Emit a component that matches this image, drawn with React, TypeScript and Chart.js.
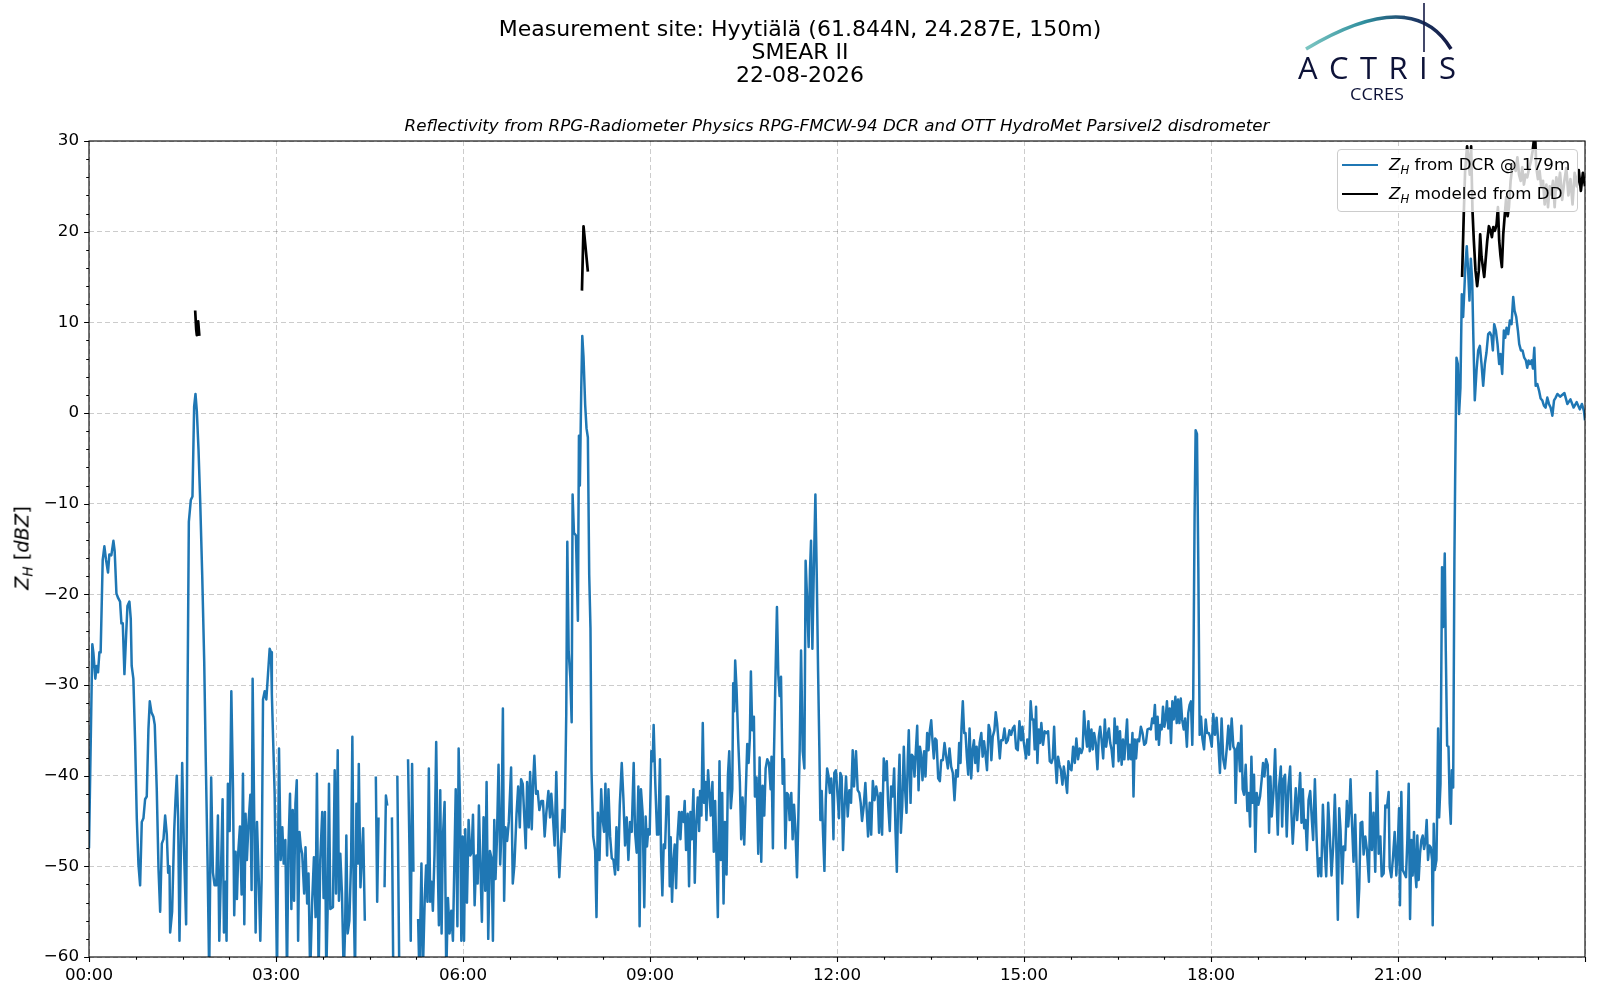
import { useEffect, useRef } from 'react';
import { Chart, registerables } from 'chart.js';

Chart.register(...registerables);

type Sample = [number, number | null];

// Z_H from the cloud radar, [minutes since 00:00, dBZ]; values below -60 run off the axis
const dcrNight: Sample[] = [
  [0, -48], [3.2, -25.5], [4.2, -26.4], [6.1, -29.3], [7.4, -27.9], [8.7, -28.6], [10, -26.4], [11.2, -26.4],
  [13.2, -16.2], [14.8, -14.7], [16.4, -16.2], [18.3, -17.6], [19.6, -15.6], [21.5, -15.7], [23.5, -14.1],
  [24.7, -15.2], [26.4, -19.9], [28, -20.4], [29.9, -20.8], [31.2, -23.2], [32.5, -23.2], [34.1, -28.8],
  [35.7, -24.6], [37, -21.3], [38.9, -20.8], [40.2, -22.7], [41.1, -27.9], [42.7, -29.3], [44.4, -36.3],
  [46, -44.7], [47.6, -49.8], [49.2, -52.1], [50.8, -45.1], [52.4, -44.7], [54, -42.6], [55.6, -42.3],
  [57.2, -34.9], [58.5, -31.8], [60.1, -33], [62, -33.5], [63.3, -34.4], [65.2, -41.4], [66.9, -50.3],
  [68.5, -55], [70.1, -47.5], [71.7, -47], [73.3, -44.4], [74.9, -46.5], [76.2, -50.7], [77.5, -50],
  [78.1, -57.3], [80, -55], [82, -46.1], [83.2, -42.8], [84.5, -40], [85.8, -44.7], [87.1, -58.2],
  [88.4, -48.4], [89.7, -38.6], [91.3, -47.5], [93.5, -56.4], [94.8, -32.1], [96.1, -12], [98, -9.6],
  [99.6, -9.2], [101.2, 0.7], [102.5, 2.1], [103.8, 0.2], [105.4, -4], [107, -9.6], [109, -18], [110.9, -27.4],
  [112.5, -39], [114.1, -49.3], [115.7, -62], [117.6, -40.2], [119.3, -50.7], [120.9, -52.1], [122.5, -52.1],
  [124.1, -44.4], [125.4, -58.2], [127, -50.7], [128.6, -42.6], [129.9, -57.3], [131.2, -51.7], [132.4, -58.2],
  [133.7, -40.9], [135.4, -46.1], [137, -30.7], [138.6, -41.4], [139.8, -55.4], [141.1, -48.4], [142.4, -53.6],
  [143.7, -48.4], [145.3, -45.6], [146.9, -53.1], [148.2, -39.8], [149.5, -56.4], [150.7, -44.2], [152, -49.3],
  [153.6, -45.1], [155.3, -42.1], [156.5, -52.6], [157.5, -29.3], [159.1, -45.1], [160.4, -57.3], [161.7, -45.1],
  [163.3, -51], [164.9, -58.2], [166.2, -51.2], [167.5, -31.6], [169.1, -30.7], [170.7, -31.6], [172.3, -28.8],
  [173.9, -26], [175.2, -26.4],
];

const dcrEarly: Sample[] = [
  [176, -31], [178.7, -42], [181, -62], [182.9, -37], [184.5, -49.3], [186.1, -45.7], [187.4, -49.7], [189, -47.1],
  [190.6, -62], [191.9, -48.2], [193.5, -42], [194.8, -54.7], [196.1, -43.8], [197.4, -53.8], [198.7, -43.1],
  [200, -40.5], [201.3, -58.2], [202.6, -46.2], [203.9, -47.9], [205.2, -48.6], [207.1, -53], [208.4, -47.9],
  [210, -54.1], [211.3, -50.8], [212.9, -62], [214.8, -53.9], [216.5, -49], [218.1, -55.6], [219.4, -39.8],
  [221, -62], [222.6, -49.3], [224.5, -44], [225.8, -53.5], [227.1, -44], [228.4, -62], [229.7, -54.7],
  [231, -40.9], [232.3, -54.7], [234.8, -54.5], [236.5, -39.4], [237.8, -53], [239.4, -37.2], [240.6, -53.8],
  [241.9, -48.6], [243.5, -53], [245.2, -62], [246.5, -57], [247.7, -46.6], [249, -57.4], [250.6, -56],
  [252.3, -49.3], [253.5, -35.7], [254.8, -53.8], [256.1, -62], [257.4, -43.1], [258.7, -49.7], [259.7, -38.7],
  [261.3, -52.3], [263.9, -45.8], [265.5, -56], [270, null], [276.1, -40.1], [277.4, -53.9], [278.7, -44.6],
  [281, null], [284.5, -52.3], [285.8, -42.2], [287.1, -43.3], [289, null], [291.6, -44.6], [292.9, -62],
  [295, null], [296.8, -40], [298.7, -62], [303, null], [307.1, -38.2], [308.4, -47.5], [309.7, -58.2],
  [311, -38.7], [312.3, -50.6], [314, null], [316.8, -55.8], [318, -62], [320, -49.7], [321.3, -62],
  [323.2, -53.4], [324.5, -49.9], [325.8, -53.9], [327.1, -39.2], [328.4, -53.9], [329.7, -51.7], [331, -54.9],
  [332.6, -48.6], [334.2, -36.3], [335.8, -50.3], [336.8, -56.5], [338.1, -41.6], [339.4, -57.4], [340.6, -46.8],
  [342.3, -42.9], [343.9, -62], [345.5, -53.5], [347.1, -57.4], [348.7, -54.9], [350.3, -58.2],
];

const dcrMorning: Sample[] = [
  [353, -41.5], [354.6, -56.6], [355.8, -37], [357.2, -43.6], [358.4, -58.2], [359.7, -46.7], [361, -58.2],
  [362.2, -45.9], [363.8, -54], [365.4, -44.9], [367, -48.8], [368.3, -48.5], [369.6, -44.3], [371.2, -54.3],
  [372.8, -48.8], [374.1, -51.9], [375.3, -43.3], [376.6, -49.3], [378.2, -56.1], [379.8, -44.6], [381.4, -52.7],
  [382.7, -40.7], [384.3, -58], [385.9, -48.3], [387.5, -49.1], [388.8, -58.2], [390.1, -44.9], [391.3, -51.4],
  [392.6, -47.2], [394.2, -38.8], [395.8, -49.8], [397.1, -45.9], [398.4, -32.6], [399.6, -53.8], [400.9, -45.7],
  [402.5, -47.2], [404.1, -45.1], [406.3, -39.1], [407.9, -51.9], [409.5, -49.8], [411.5, -44.3], [413.1, -41.2],
  [414.7, -45.7], [415.9, -40.4], [417.5, -40.9], [418.8, -44.1], [420.4, -48], [421.7, -40.7], [423.3, -45.7],
  [424.6, -39.6], [426.2, -45.9], [427.5, -40.7], [428.7, -37.8], [430.3, -42], [431.9, -41.7], [433.5, -43.8],
  [435.4, -42.8], [437, -42.8], [438.6, -46.7], [440.2, -44.1], [442.2, -41.7], [443.8, -44.6], [445, -42],
  [446.6, -44.6], [448.2, -47.7], [449.8, -39.6], [451.4, -47.7], [452.7, -51.2], [454.3, -47.5], [455.9, -43.8],
  [457.8, -46.2], [459.4, -33.1], [460.4, -14.2], [461.7, -26.3], [463.3, -29.2], [464.6, -34.1], [465.5, -9],
  [466.8, -13.2], [468.7, -13.5], [470.6, -22.9], [471.6, -2.5], [472.5, -8], [473.8, 2.5], [474.8, 8.5],
  [476, 6.2], [477.6, 0.9], [478.9, -1.7], [480.2, -2.7], [481.5, -17.9], [482.7, -23.7], [483.7, -39.4],
  [485.3, -46.7], [487.2, -48.3], [488.5, -55.6], [489.8, -44.1], [491.4, -49.3], [493, -41.5], [494.2, -44.6],
  [495.8, -46.2], [497.1, -40.9], [498.7, -48.8], [500, -41.5], [501.6, -46.7], [503.2, -49.1], [504.8, -49.3],
  [506.4, -50.9], [507.7, -45.7], [509.3, -50.4], [510.9, -43.3], [512.8, -38.6], [514.4, -42.5], [516, -47.7],
  [517.6, -44.6], [519.2, -49.3], [520.8, -45.1], [522.4, -46.2], [524.3, -38.6], [525.6, -46.2], [527.2, -48.5],
  [528.8, -41.2], [530, -56.6], [531.3, -41.5], [532.9, -44.1],
];

const dcrForenoon: Sample[] = [
  [534.5, -54.5], [535.8, -44.5], [537.1, -47.8], [538.4, -45.9], [539.7, -46.5], [541.3, -37.3], [542.6, -38.4],
  [543.5, -34.4], [545.1, -40.9], [546.8, -46.5], [548, -46.5], [549.6, -38.2], [550.6, -48.4], [551.9, -53.2],
  [553.2, -47.6], [554.5, -48], [556.1, -42.3], [557.7, -42.3], [559, -52.2], [559.9, -46.8], [561.2, -53.9],
  [562.5, -49.5], [563.8, -47.6], [565.1, -52.4], [566.4, -47], [568, -44], [569.3, -47], [570.5, -44],
  [572.2, -45.1], [573.4, -42.8], [574.7, -48.2], [576.3, -44.2], [577.6, -52.2], [578.9, -44], [580.2, -47],
  [581.8, -41.5], [583.1, -51.8], [584.4, -45.5], [586, -42.4], [587.3, -46.1], [588.2, -41.7], [589.5, -44.4],
  [590.8, -34.2], [592.1, -43], [593.4, -40.7], [594.3, -44.9], [595.9, -39.4], [597.2, -41.9], [598.5, -44.4],
  [600.1, -40.7], [601.4, -48.4], [602.7, -42.8], [604, -49.1], [605.3, -55.6], [606.9, -38.4], [608.2, -49.3],
  [609.5, -41.9], [610.8, -54.1], [612.1, -45.1], [613.7, -50.9], [615, -40], [616.3, -37.3], [617.8, -43.6],
  [619.2, -41.5], [620.1, -29.8], [621.1, -32.9], [622, -27.3], [623.3, -30.4], [624.9, -36.1], [626.5, -40.7],
  [627.8, -47], [629.1, -42.4], [630.7, -47.6], [632, -42.6], [633.6, -36.5], [634.9, -38.6], [636.1, -35.9],
  [637.1, -28.5], [638.4, -35], [640, -33.5], [641, -42.3], [642.6, -40.2], [644.2, -48.6], [645.5, -38],
  [647.1, -49.5], [648.4, -41.1], [650, -44.4], [651.3, -39.2], [652.9, -38.2], [654.5, -38.6], [656.1, -41.5],
  [657, -37.9], [658.3, -48], [659.3, -37.9], [660.6, -30], [662.2, -21.4], [663.5, -28.9], [664.8, -31.2],
  [666.1, -29.1], [667.7, -40.9], [669, -38.2], [670.3, -48], [671.8, -41.9], [673.1, -42.1], [674.4, -44.9],
  [676, -41.9], [677.3, -47], [678.6, -43.2], [679.9, -45.7], [681.5, -51.2], [682.8, -44.6], [684.1, -36.9],
  [685.4, -26.2], [687, -37.3], [688.6, -39.2], [689.8, -16.3], [691.1, -20.1], [692.7, -25.8], [694, -17.4],
  [695, -14.1], [696.3, -26], [697.6, -17.8], [699.2, -9], [700.5, -17.8], [701.8, -28.5], [703, -36.9],
  [704, -44.9], [705.3, -41.7], [706.6, -46.5], [707.9, -50.5], [709.2, -42.6], [710.5, -39.2], [711.8, -40],
  [713.1, -41.9], [714.4, -40.3], [715.6, -42.3], [716.6, -47],
];

const dcrAfternoon: Sample[] = [
  [717.4, -39.7], [719, -39.4], [720.6, -42.3], [721.9, -44.7], [723.2, -39.7], [724.5, -40.1], [725.8, -48.2],
  [727.1, -43.8], [728.7, -40.1], [730.3, -44.5], [731.9, -41.6], [733.5, -43], [735.1, -37.2], [736.4, -41.2],
  [738.3, -37.3], [739.9, -41.6], [741.5, -41.9], [742.8, -43], [744.1, -45], [745.7, -43.4], [747.3, -40.8],
  [748.6, -43.8], [749.9, -46.7], [751.5, -43], [752.9, -46.5], [754.5, -40.6], [756.1, -42.7], [757.7, -41.2],
  [759.3, -42.3], [760.5, -46.3], [761.8, -41.9], [763.4, -46.5], [765, -38.1], [766.3, -40.5], [767.9, -38.4],
  [769.2, -43], [770.8, -46.1], [772.1, -41.2], [773.7, -42.3], [775, -39.2], [776.3, -46], [777.6, -50.6],
  [778.9, -42.3], [780.2, -37.7], [781.5, -46.3], [782.8, -43.4], [784.3, -36.8], [785.6, -41.6], [786.9, -44.1],
  [788.2, -37.9], [789.1, -35], [790.8, -43], [792, -37.7], [793.3, -37.9], [794.6, -40.1], [795.9, -37.2],
  [797.2, -34.5], [798.5, -41.6], [799.8, -36.8], [801, -37.7], [802.3, -40.5], [803.9, -37.3], [805.2, -40.1],
  [806.8, -35.3], [808.1, -37.2], [809.4, -35], [810.7, -33.9], [811.9, -36.1], [813.2, -38.1], [814.5, -35.9],
  [815.8, -36.1], [817.4, -40.3], [819, -40.6], [820.3, -38.3], [821.9, -38.3], [823.5, -36.4], [825.1, -37.9],
  [826.7, -39.2], [828.3, -37], [829.9, -39], [831.5, -39.7], [833.1, -42.7], [834.7, -39.4], [836.3, -40.1],
  [837.6, -36.4], [838.9, -38.6], [839.8, -34.8], [841.1, -31.8], [842.4, -35.3], [843.7, -35.3], [845, -37.9],
  [846.3, -39.9], [847.6, -34.8], [849.2, -40.3], [850.5, -37.2], [851.8, -36.1], [853.1, -38.6], [854.4, -36.8],
  [855.7, -39.5], [857.3, -36.4], [858.9, -35.3], [860.2, -37.9], [861.5, -36.2], [862.8, -37.5], [864.4, -39.4],
  [866, -34.4], [867.3, -35], [868.6, -38.3], [869.9, -35.7], [871.5, -35], [872.8, -33], [874.1, -34.2],
  [875.4, -36.1], [876.7, -38.1], [878, -36.1], [879.6, -36.1], [881.2, -34.8], [882.8, -36.4], [884.4, -36.1],
  [886, -35], [887.6, -35.5], [889.2, -34.8], [890.8, -34.5], [892.4, -37], [894, -37.2], [895.6, -34],
  [897.2, -36.1], [898.5, -34.6], [899.7, -36.2],
];

const dcrLateAfternoon: Sample[] = [
  [901.9, -38.1], [903.2, -36], [904.8, -37.7], [906.4, -31.8], [907.7, -33.8], [909, -33.8], [910.3, -37.1],
  [911.6, -32.4], [912.9, -38.6], [914.2, -34.9], [915.5, -36.4], [916.7, -34.2], [918.3, -36.6], [919.9, -35.1],
  [921.5, -35.3], [923.2, -35.1], [924.8, -38.4], [926.4, -38.6], [927.7, -38.1], [929, -34.6], [930.3, -38.6],
  [931.5, -40.8], [932.8, -37.9], [934.1, -38.8], [935.4, -39.3], [937, -41], [938.3, -39], [939.9, -40.3],
  [941.5, -41.9], [942.8, -38.4], [944.4, -39.2], [945.7, -39.4], [947.3, -36.8], [948.9, -38.6], [950.4, -35.9],
  [952, -38.2], [953.6, -37], [955.3, -37.5], [956.5, -37], [957.8, -32.9], [959.1, -35.1], [960.7, -36.8],
  [962, -34], [963.3, -37.3], [964.9, -34.9], [966.2, -37.1], [967.5, -35.3], [969.1, -36.4], [970.7, -39.3],
  [972, -35.7], [973.3, -34.6], [974.6, -36], [976.2, -38.1], [977.8, -33.8], [979.1, -36.8], [980.4, -35.5],
  [981.7, -34.8], [983, -36.4], [984.3, -37.1], [985.9, -39], [987.2, -33.7], [988.5, -36.4], [989.8, -34.6],
  [991.1, -38.4], [992.4, -35.1], [994, -38.8], [995.3, -36], [996.6, -38.2], [997.9, -36], [999.2, -33.8],
  [1000.5, -38.2], [1001.8, -36.6], [1003.1, -38.2], [1004.4, -35.3], [1005.4, -42.3], [1006.6, -36],
  [1007.9, -38.1], [1009.2, -36], [1010.8, -36.2], [1012.5, -34.6], [1014.1, -35.3], [1015.7, -36.6],
  [1017.3, -36.4], [1018.9, -34.9], [1020.5, -34.8], [1022.1, -34.9], [1023.4, -33.7], [1024.7, -34.2],
  [1026, -32.2], [1027.3, -36], [1028.6, -33.5], [1029.9, -36.6], [1031.2, -34.4], [1032.5, -34.9],
  [1033.8, -32.4], [1035.1, -34.6], [1036.3, -33.8], [1037.6, -31.8], [1038.9, -34.8], [1040.2, -32.6],
  [1041.5, -36.4], [1042.8, -31.8], [1044.1, -33.8], [1045.7, -31.3], [1047, -34.2], [1048.3, -31.6],
  [1049.6, -34.2], [1050.9, -31.5], [1052.2, -33.8], [1053.8, -34.9], [1055.1, -33.7], [1056.8, -36.8],
  [1058.1, -33.1], [1059.4, -32.2], [1060.7, -31.8], [1062, -36.6], [1062.9, -31.3], [1064.2, -11.5],
  [1065.2, -1.9], [1066.5, -2.3], [1067.8, -17], [1069.1, -35.5], [1070.4, -33.5], [1071.7, -35.9],
  [1073.3, -37.1], [1074.9, -33.8], [1076.2, -35.3], [1077.8, -35.3], [1079.1, -35.7], [1080.7, -36.8],
];

const dcrEvening: Sample[] = [
  [1082.2, -33.2], [1083.8, -35.5], [1085.4, -33.6], [1087, -36.4], [1088.6, -39.7], [1090.2, -33.7],
  [1091.8, -38.2], [1093.4, -39.2], [1095.1, -37.1], [1096.7, -34.5], [1098.3, -37.1], [1099.9, -33.7],
  [1101.5, -36.8], [1102.8, -37.1], [1103.7, -43], [1105, -37.1], [1106.3, -36.4], [1107.9, -39.5],
  [1109.2, -34.5], [1110.5, -41.5], [1111.8, -42.1], [1113.4, -38.8], [1115, -43.9], [1116.3, -41.9],
  [1117.6, -45.6], [1118.9, -37.9], [1120.1, -43], [1121.4, -39.9], [1122.7, -48.4], [1124, -41.9],
  [1125.6, -43.2], [1127.2, -42.3], [1128.8, -40.4], [1130.1, -38.6], [1131.4, -40.1], [1133, -38.2],
  [1134.6, -38.8], [1135.9, -46.3], [1137.2, -40.1], [1138.5, -44.5], [1140.1, -41.9], [1141.7, -37.1],
  [1143, -42.3], [1144.3, -46.5], [1145.5, -41.2], [1147.2, -39], [1148.5, -45.6], [1149.7, -40.4],
  [1151.3, -39.9], [1152.9, -46.7], [1154.5, -41.2], [1156.2, -39], [1157.4, -44.1], [1158.7, -47.5],
  [1160.3, -44.1], [1161.6, -41.4], [1162.9, -44.9], [1164.5, -42.3], [1165.8, -39.7], [1167.1, -45.2],
  [1168.4, -41.5], [1169.7, -45.8], [1171, -44.9], [1172.3, -48.2], [1173.9, -42.7], [1175.5, -41.7],
  [1177.1, -44.9], [1178.3, -47.1], [1180, -40.4], [1181.6, -46.7], [1183.2, -51.1], [1184.8, -49.1],
  [1186.1, -51.1], [1187.7, -43.2], [1189.3, -48], [1190.9, -51.1], [1192.8, -43], [1194.4, -46.7],
  [1196, -51], [1197.6, -47.8], [1199.2, -42.1], [1200.5, -47.1], [1202.1, -55.9], [1203.4, -43.6],
  [1204.7, -46], [1206.3, -51.9], [1207.6, -47.8], [1209.2, -48.2], [1210.8, -42.8], [1212.1, -45.6],
  [1213.4, -43.4], [1214.3, -40.4], [1215.6, -44.9], [1217.2, -49.5], [1218.8, -44.3], [1220.1, -50],
  [1221.4, -55.6], [1222.7, -52.4], [1224, -45.2], [1225.6, -45.1], [1226.9, -48.7], [1228.5, -46.7],
  [1230.1, -48.2], [1232, -51.7], [1233.3, -41.9], [1234.9, -48.2], [1236.5, -44.1], [1238.1, -50.6],
  [1239.8, -39.5], [1241.4, -48.6], [1243, -46.7], [1244.3, -51.1],
];

const dcrLateEvening: Sample[] = [
  [1246.2, -50.8], [1247.8, -43.3], [1249.4, -43.5], [1251, -41.8], [1252, -50.1], [1253.6, -51.2],
  [1255.2, -49], [1256.8, -46.2], [1258.4, -51], [1260, -47.1], [1261, -43.6], [1261.9, -54.3],
  [1263.2, -41.8], [1264.5, -50.4], [1266.1, -50.8], [1267.7, -51.2], [1269, -47.1], [1270.3, -40.9],
  [1271.6, -55.8], [1272.9, -47.1], [1274.1, -51], [1275.4, -46.2], [1276.7, -50.8], [1277.7, -52.3],
  [1278.6, -46.6], [1279.9, -51.5], [1281.2, -48.6], [1282.5, -47.1], [1283.8, -46.6], [1285.1, -48.1],
  [1286.3, -47.3], [1287.6, -44.9], [1288.9, -49.3], [1290.2, -47.7], [1291.5, -47.9], [1292.8, -49.3],
  [1293.4, -56.5], [1294.4, -45.3], [1295.4, -50.4], [1297, -49.3], [1297.6, -44.6], [1298.6, -34.8],
  [1299.6, -44.6], [1300.9, -40.9], [1302.4, -17], [1303.4, -23.6], [1305, -15.5], [1306, -26.2],
  [1307.3, -36.7], [1308.6, -36.8], [1309.8, -43.1], [1310.8, -45.3], [1311.8, -39.4], [1313.1, -41.3],
];

const dcrRain: Sample[] = [
  [1314.3, -16.2], [1315, -7.4], [1316.3, 6.1], [1317.6, 5.4], [1318.8, -0.1], [1320.1, 2.8], [1321.4, 13.1],
  [1322.7, 10.6], [1324, 13.9], [1324.9, 16.4], [1326.2, 18.4], [1327.5, 15.7], [1328.8, 12.4], [1330.1, 17],
  [1331.4, 14.6], [1332.6, 8], [1333.9, 1.4], [1335.6, 4.7], [1337.2, 6.9], [1338.8, 7.4], [1340.4, 5.4],
  [1342, 3], [1343.6, 5.4], [1345.2, 6.7], [1346.8, 8.7], [1348.4, 8.9], [1350, 8.5], [1351.3, 6.9],
  [1352.6, 9.8], [1354.2, 9.1], [1355.8, 7.6], [1357.4, 5.4], [1358.7, 6.5], [1360.3, 4.3], [1361.9, 9.1],
  [1363.2, 8.3], [1364.5, 9.4], [1366.1, 8.7], [1367.7, 10.2], [1369.3, 9.8], [1370.9, 12.8], [1372.2, 11.3],
  [1373.8, 10.6], [1375.4, 9.1], [1376.7, 7.6], [1378.3, 6.9], [1379.9, 6.9], [1381.5, 6.1], [1383.1, 5.8],
  [1384.4, 5], [1385.7, 5.8], [1387, 5.4], [1388.6, 5.8], [1389.9, 4.9], [1391.2, 7.2], [1392.5, 3],
  [1394.1, 3.2], [1395.7, 2.5], [1397.3, 1.6], [1398.9, 1.4], [1400.5, 0.8], [1402.1, 0.6], [1403.7, 1.7],
  [1405.3, 1], [1406.9, 0.6], [1408.6, -0.3], [1410.2, 1.4], [1411.8, 1.7], [1413.4, 2.1], [1416, 1.8],
  [1420.2, 2.2], [1423, 1], [1426, 1.5], [1429, 0.6], [1432, 1.2], [1435, 0.4], [1437, 1], [1439, 0.2],
  [1440, -0.8],
];

// Z_H modelled from the disdrometer drop size distribution
const ddShower1: Sample[] = [[102.2, 11.3], [103.2, 9.2], [103.8, 8.6], [105.1, 10.1], [106.2, 8.5]];
const ddShower2: Sample[] = [[474.5, 13.5], [476, 20.6], [477.6, 18.7], [480.2, 15.6]];
const ddRain: Sample[] = [
  [1321.7, 15], [1323.3, 21.9], [1324.6, 26.7], [1326.5, 29.4], [1327.8, 28.2], [1329.1, 26.3], [1330.4, 29.4],
  [1331.7, 22.3], [1333, 19], [1334.6, 15.7], [1336.2, 14], [1337.8, 15.7], [1339.1, 19.7], [1340.4, 17.2],
  [1341.7, 16.1], [1343, 15], [1344.3, 16.8], [1345.9, 19], [1347.5, 20.6], [1349.1, 20.1], [1350.4, 19.4],
  [1351.7, 20.5], [1353.3, 20.1], [1354.9, 20.8], [1356.2, 22.7], [1357.4, 19], [1358.7, 17.3], [1360, 16.1],
  [1361.3, 19.7], [1362.6, 21.6], [1364.2, 23.8], [1365.5, 21.7], [1366.8, 22.7], [1368.4, 25.6], [1370, 27.1],
  [1371.6, 27.6], [1373.3, 26.7], [1374.9, 28.2], [1376.5, 26.3], [1378.1, 25.6], [1379.6, 27.1], [1381.2, 25.2],
  [1382.8, 26.3], [1384.4, 26], [1386.4, 27.1], [1388, 27.8], [1389.6, 28.9], [1390.9, 30.2], [1391.9, 31],
  [1393.1, 27.1], [1394.7, 25.8], [1396.3, 26.7], [1397.9, 24.9], [1399.6, 25.6], [1401.2, 23], [1402.8, 25.2],
  [1404.4, 22.7], [1406, 25], [1407.6, 24.1], [1409.2, 25.6], [1410.8, 22.7], [1412.4, 26], [1414, 24.7],
  [1416, 26.5], [1418, 23.5], [1420, 25.5], [1422, 27], [1424, 24], [1426, 25.8], [1428, 23], [1430, 26.5],
  [1432, 25], [1434, 26.8], [1436, 24.5], [1438, 26.5], [1440, 25],
];

const xTickLabels = ['00:00', '03:00', '06:00', '09:00', '12:00', '15:00', '18:00', '21:00', ''];

const legendItems = [
  { color: '#1f77b4', text: ' from DCR @ 179m' },
  { color: '#000000', text: ' modeled from DD' },
];

const FONT = '"DejaVu Sans", sans-serif';

const toPoints = (rows: Sample[]) => rows.map(([x, y]) => ({ x, y }));

// black frame plus matplotlib style major/minor ticks
const framePlugin = {
  id: 'frame',
  afterDraw(chart: Chart) {
    const { ctx, chartArea: a } = chart;
    const x = chart.scales.x;
    const y = chart.scales.y;
    ctx.save();
    ctx.strokeStyle = '#000';
    ctx.lineWidth = 1.1;
    ctx.beginPath();
    for (let v = -60; v <= 30; v += 2) {
      const py = Math.round(y.getPixelForValue(v)) + 0.5;
      const len = v % 10 === 0 ? 4.9 : 2.8;
      ctx.moveTo(a.left - len, py);
      ctx.lineTo(a.left, py);
    }
    for (let m = 0; m <= 1440; m += 45) {
      const px = Math.round(x.getPixelForValue(m)) + 0.5;
      const len = m % 180 === 0 ? 4.9 : 2.8;
      ctx.moveTo(px, a.bottom);
      ctx.lineTo(px, a.bottom + len);
    }
    ctx.stroke();
    ctx.strokeRect(a.left, a.top, a.right - a.left, a.bottom - a.top);
    ctx.restore();
  },
};

function ZH() {
  return (
    <>
      <i>Z</i>
      <i style={{ fontSize: '0.7em', position: 'relative', top: '0.3em' }}>H</i>
    </>
  );
}

export default function App() {
  const canvasRef = useRef<HTMLCanvasElement>(null);

  useEffect(() => {
    if (!canvasRef.current) return;
    const ctx = canvasRef.current.getContext('2d');
    if (!ctx) return;

    const dcr = [
      ...dcrNight, ...dcrEarly, ...dcrMorning, ...dcrForenoon, ...dcrAfternoon,
      ...dcrLateAfternoon, ...dcrEvening, ...dcrLateEvening, ...dcrRain,
    ];
    const dd: Sample[] = [...ddShower1, [300, null], ...ddShower2, [900, null], ...ddRain];

    const tickFont = { family: FONT, size: 16.7 };

    const chart = new Chart(ctx, {
      type: 'line',
      data: {
        datasets: [
          {
            label: 'ZH from DCR @ 179m',
            data: toPoints(dcr),
            borderColor: '#1f77b4',
            borderWidth: 2.5,
            borderJoinStyle: 'round',
            pointRadius: 0,
            tension: 0,
            spanGaps: false,
            clip: 0,
            order: 1,
          },
          {
            label: 'ZH modeled from DD',
            data: toPoints(dd),
            borderColor: '#000000',
            borderWidth: 2.7,
            borderJoinStyle: 'round',
            pointRadius: 0,
            tension: 0,
            spanGaps: false,
            clip: 0,
            order: 0,
          },
        ],
      },
      options: {
        responsive: false,
        animation: false,
        events: [],
        layout: { padding: { top: 141, right: 15, left: 0, bottom: 0 } },
        plugins: {
          legend: { display: false },
          tooltip: { enabled: false },
          title: { display: false },
        },
        scales: {
          x: {
            type: 'linear',
            min: 0,
            max: 1440,
            afterFit: (scale: any) => {
              scale.height = 43;
            },
            ticks: {
              stepSize: 180,
              autoSkip: false,
              maxRotation: 0,
              padding: 9,
              color: '#000',
              font: tickFont,
              callback: (value: any) => xTickLabels[Math.round(Number(value) / 180)] ?? '',
            },
            grid: { color: 'rgba(0,0,0,0.2)', lineWidth: 1, drawTicks: false },
            border: { display: false, dash: [5, 3] },
          },
          y: {
            type: 'linear',
            min: -60,
            max: 30,
            afterFit: (scale: any) => {
              scale.width = 89;
            },
            ticks: {
              stepSize: 10,
              padding: 10,
              color: '#000',
              font: tickFont,
              callback: (value: any) => {
                const v = Number(value);
                return v < 0 ? `\u2212${Math.abs(v)}` : `${v}`;
              },
            },
            grid: { color: 'rgba(0,0,0,0.2)', lineWidth: 1, drawTicks: false },
            border: { display: false, dash: [5, 3] },
          },
        },
      },
      plugins: [framePlugin],
    });

    return () => {
      chart.destroy();
    };
  }, []);

  return (
    <div style={{ position: 'absolute', left: 0, top: 0, width: 1600, height: 1000, background: '#fff', fontFamily: FONT, color: '#000' }}>
      <canvas ref={canvasRef} width={1600} height={1000} style={{ position: 'absolute', left: 0, top: 0, width: 1600, height: 1000 }} />

      {/* Figure title */}
      <div style={{ position: 'absolute', left: 0, top: 17, width: 1600, textAlign: 'center', fontSize: 22, lineHeight: '23px' }}>
        <div>Measurement site: Hyytiälä (61.844N, 24.287E, 150m)</div>
        <div>SMEAR II</div>
        <div>22-08-2026</div>
      </div>

      {/* Axes title */}
      <div style={{ position: 'absolute', left: 89, top: 115, width: 1496, textAlign: 'center', fontSize: 16.7, lineHeight: '20px', fontStyle: 'italic' }}>
        Reflectivity from RPG-Radiometer Physics RPG-FMCW-94 DCR and OTT HydroMet Parsivel2 disdrometer
      </div>

      {/* Y axis label */}
      <div style={{ position: 'absolute', left: 22.5, top: 548, transform: 'translate(-50%, -50%) rotate(-90deg)', whiteSpace: 'nowrap', fontSize: 19.4, lineHeight: '24px' }}>
        <ZH /> [<i>dBZ</i>]
      </div>

      {/* Legend */}
      <div style={{ position: 'absolute', left: 1337, top: 149, width: 241, height: 63, boxSizing: 'border-box', border: '1px solid #cccccc', borderRadius: 4, background: 'rgba(255,255,255,0.8)' }}>
        {legendItems.map((item, i) => (
          <div key={i} style={{ position: 'absolute', left: 0, top: 4 + i * 29, height: 22, display: 'flex', alignItems: 'center', whiteSpace: 'nowrap' }}>
            <span style={{ display: 'inline-block', marginLeft: 4, width: 36, height: 2.5, background: item.color }} />
            <span style={{ marginLeft: 11, fontSize: 16.7, lineHeight: '22px' }}>
              <ZH />
              {item.text}
            </span>
          </div>
        ))}
      </div>

      {/* ACTRIS CCRES logo */}
      <svg width={1600} height={112} style={{ position: 'absolute', left: 0, top: 0 }}>
        <defs>
          <linearGradient id="arcGrad" x1="1306" y1="0" x2="1451" y2="0" gradientUnits="userSpaceOnUse">
            <stop offset="0" stopColor="#7cc6c2" />
            <stop offset="0.4" stopColor="#2f8f9e" />
            <stop offset="0.75" stopColor="#1d3a66" />
            <stop offset="1" stopColor="#141a45" />
          </linearGradient>
        </defs>
        <path d="M1306 49 Q1413 -15 1451 49" stroke="url(#arcGrad)" strokeWidth={3.6} fill="none" />
        <line x1={1424} y1={3} x2={1424} y2={52} stroke="#141a45" strokeWidth={1.6} />
        <text x={1298} y={78.6} textLength={158} lengthAdjust="spacing" fontSize={31} fill="#0d1238" fontFamily='"Open Sans", sans-serif'>
          ACTRIS
        </text>
        <text x={1350} y={100} textLength={54} lengthAdjust="spacingAndGlyphs" fontSize={16} fill="#0d1238" fontFamily='"Open Sans", sans-serif'>
          CCRES
        </text>
      </svg>
    </div>
  );
}
